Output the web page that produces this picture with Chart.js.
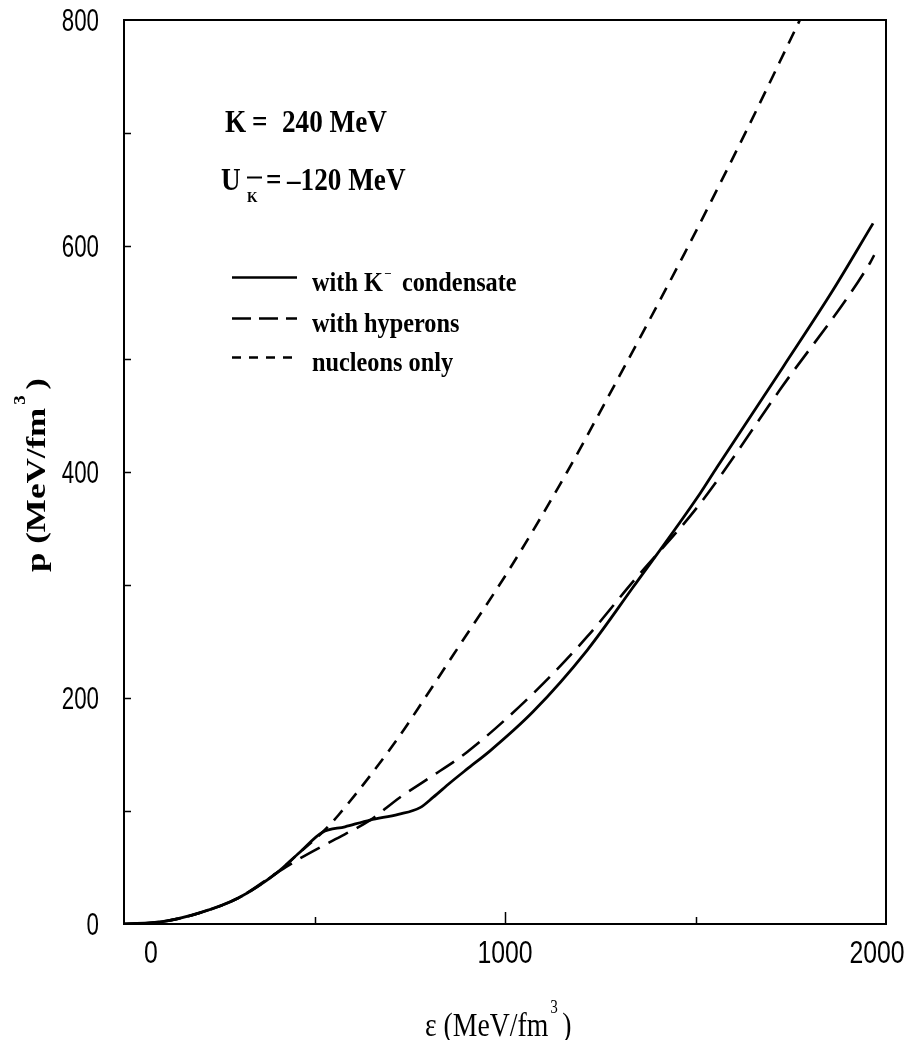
<!DOCTYPE html>
<html>
<head>
<meta charset="utf-8">
<script src="https://cdn.jsdelivr.net/npm/chart.js@4.4.1/dist/chart.umd.min.js"></script>
<style>
  html, body { margin: 0; padding: 0; background: #fff; }
  canvas { display: block; }
</style>
</head>
<body>
<canvas id="c" width="922" height="1040"></canvas>
<script>
// ---- data (energy density ε in MeV/fm^3, pressure p in MeV/fm^3) ----
const condensateE = [0, 100, 200, 300, 400, 460, 520, 580, 646, 720, 777, 811, 856, 900, 960, 1074, 1215, 1336, 1512, 1556, 1730, 1861, 1966];
const condensateP = [0, 2, 10, 23, 45, 63, 81, 86, 92, 97, 103, 112, 125, 137, 153, 188, 242, 298, 381, 404, 493, 561, 620];

const hyperonsE = [0, 100, 200, 300, 400, 462, 549, 646, 724, 800, 900, 1074, 1215, 1336, 1512, 1722, 1958, 1969];
const hyperonsP = [0, 2, 10, 23, 45, 58, 74, 92, 112, 129, 152, 204, 254, 303, 372, 473, 585, 592];

const nucleonsE = [0, 100, 200, 300, 400, 460, 520, 562, 716, 790, 864, 1021, 1163, 1262, 1472, 1635, 1774, 1800];
const nucleonsP = [0, 2, 10, 23, 45, 63, 81, 96, 163, 200, 238, 319, 400, 461, 594, 703, 800, 818];

const seriesLabels = ['with K\u207B condensate', 'with hyperons', 'nucleons only'];
const xTickLabels = [0, 1000, 2000];
const yTickLabels = [0, 200, 400, 600, 800];
const xMinorTicks = [500, 1000, 1500];
const yMinorTicks = [100, 200, 300, 400, 500, 600, 700];

const pts = (xs, ys) => xs.map((x, i) => ({ x: x, y: ys[i] }));

function txt(ctx, s, x, y, font, sx, align) {
  sx = sx || 1;
  ctx.save();
  ctx.font = font;
  ctx.textBaseline = 'alphabetic';
  ctx.textAlign = 'left';
  const w = ctx.measureText(s).width * sx;
  let x0 = x;
  if (align === 'center') x0 = x - w / 2;
  else if (align === 'right') x0 = x - w;
  ctx.translate(x0, y);
  ctx.scale(sx, 1);
  ctx.fillStyle = '#000';
  ctx.fillText(s, 0, 0);
  ctx.restore();
  return x0 + w;
}

const deco = {
  id: 'deco',
  afterDraw(chart) {
    const ctx = chart.ctx;
    const a = chart.chartArea;
    const xs = chart.scales.x, ys = chart.scales.y;
    ctx.save();
    ctx.strokeStyle = '#000';
    ctx.fillStyle = '#000';
    // frame
    ctx.lineWidth = 2;
    ctx.strokeRect(a.left, a.top, a.right - a.left, a.bottom - a.top);
    // ticks
    ctx.lineWidth = 1.5;
    ctx.beginPath();
    xMinorTicks.forEach(v => {
      const px = Math.round(xs.getPixelForValue(v)) + 0.5;
      const len = (v === 1000) ? 12 : 7;
      ctx.moveTo(px, a.bottom); ctx.lineTo(px, a.bottom - len);
    });
    yMinorTicks.forEach(v => {
      const py = Math.round(ys.getPixelForValue(v)) + 0.5;
      ctx.moveTo(a.left, py); ctx.lineTo(a.left + 7, py);
    });
    ctx.stroke();

    // tick labels
    const tickFont = '31px "Liberation Sans", Arial, sans-serif';
    yTickLabels.forEach(v => {
      const py = ys.getPixelForValue(v);
      txt(ctx, String(v), a.left - 25, py + 11, tickFont, 0.72, 'right');
    });
    xTickLabels.forEach((v, i) => {
      let px = xs.getPixelForValue(v);
      if (i === 0) px += 27;
      if (i === xTickLabels.length - 1) px -= 9;
      txt(ctx, String(v), px, a.bottom + 39, tickFont, 0.8, 'center');
    });

    // x axis title: ε (MeV/fm³ )
    const xf = '33px "Liberation Serif", "Times New Roman", serif';
    let cx = txt(ctx, '\u03B5 (MeV/fm', 425, 1036, xf, 0.84, 'left');
    txt(ctx, '3', cx + 2, 1013, '18px "Liberation Serif", serif', 0.84, 'left');
    txt(ctx, ')', cx + 14, 1036, xf, 0.84, 'left');

    // y axis title: p (MeV/fm³)
    ctx.save();
    ctx.translate(45, 572);
    ctx.rotate(-Math.PI / 2);
    const yf = 'bold 28px "Liberation Serif", "Times New Roman", serif';
    let cy = txt(ctx, 'p (MeV/fm', 0, 0, yf, 1.25, 'left');
    txt(ctx, '3', cy + 3, -20, 'bold 17px "Liberation Serif", serif', 1.1, 'left');
    txt(ctx, ')', cy + 18, 0, yf, 1.25, 'left');
    ctx.restore();

    // annotations
    const af = 'bold 32px "Liberation Serif", "Times New Roman", serif';
    txt(ctx, 'K', 225, 132, af, 0.85, 'left');
    txt(ctx, '=', 252, 132, af, 0.85, 'left');
    txt(ctx, '240 MeV', 282, 132, af, 0.85, 'left');

    txt(ctx, 'U', 221, 190, af, 0.85, 'left');
    ctx.lineWidth = 2;
    ctx.beginPath(); ctx.moveTo(247, 177.5); ctx.lineTo(262, 177.5); ctx.stroke();
    txt(ctx, 'K', 247, 202, 'bold 15px "Liberation Serif", serif', 0.9, 'left');
    txt(ctx, '=', 266, 190, af, 0.85, 'left');
    txt(ctx, '\u2013120 MeV', 287, 190, af, 0.85, 'left');

    // legend
    const lf = 'bold 27px "Liberation Serif", "Times New Roman", serif';
    const rows = [277, 318, 357];
    const dashes = [[], [19, 8], [9, 8]];
    ctx.lineWidth = 2.6;
    rows.forEach((ry, i) => {
      ctx.setLineDash(dashes[i]);
      ctx.beginPath(); ctx.moveTo(232, ry + 0.5); ctx.lineTo(297, ry + 0.5); ctx.stroke();
    });
    ctx.setLineDash([]);
    let lx = txt(ctx, 'with K', 312, 291, lf, 0.9, 'left');
    txt(ctx, '\u2013', lx + 2, 276, 'bold 13px "Liberation Serif", serif', 0.9, 'left');
    txt(ctx, 'condensate', lx + 19, 291, lf, 0.9, 'left');
    txt(ctx, seriesLabels[1], 312, 332, lf, 0.9, 'left');
    txt(ctx, seriesLabels[2], 312, 371, lf, 0.9, 'left');
    ctx.restore();
  }
};

new Chart(document.getElementById('c'), {
  type: 'line',
  data: {
    datasets: [
      { label: seriesLabels[0], data: pts(condensateE, condensateP), borderColor: '#000', borderWidth: 2.8,
        pointRadius: 0, cubicInterpolationMode: 'monotone', fill: false },
      { label: seriesLabels[1], data: pts(hyperonsE, hyperonsP), borderColor: '#000', borderWidth: 2.6,
        borderDash: [22, 10], pointRadius: 0, cubicInterpolationMode: 'monotone', fill: false },
      { label: seriesLabels[2], data: pts(nucleonsE, nucleonsP), borderColor: '#000', borderWidth: 2.6,
        borderDash: [13, 9], pointRadius: 0, cubicInterpolationMode: 'monotone', fill: false }
    ]
  },
  options: {
    responsive: false,
    animation: false,
    devicePixelRatio: 1,
    layout: { padding: { left: 124, right: 36, top: 20, bottom: 116 } },
    scales: {
      x: { type: 'linear', min: 0, max: 2000, display: false },
      y: { type: 'linear', min: 0, max: 800, display: false }
    },
    plugins: { legend: { display: false }, tooltip: { enabled: false } }
  },
  plugins: [deco]
});
</script>
</body>
</html>
